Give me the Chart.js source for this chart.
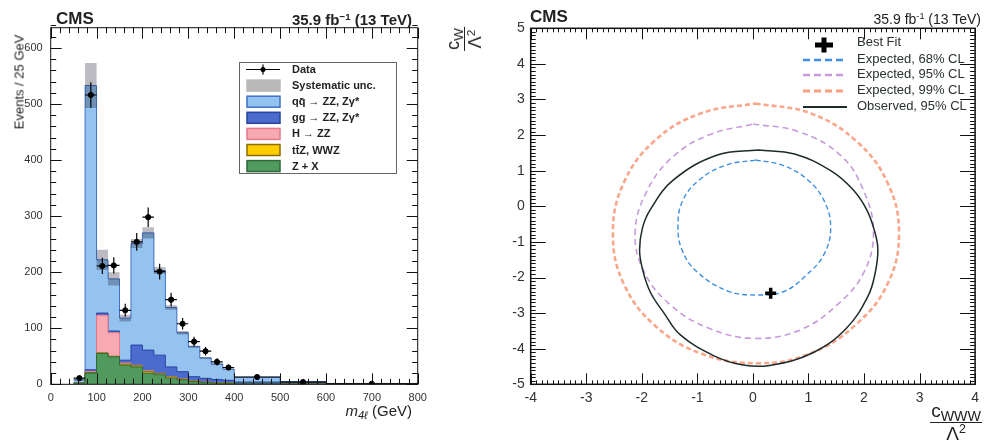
<!DOCTYPE html>
<html>
<head>
<meta charset="utf-8">
<script src="https://cdn.jsdelivr.net/npm/chart.js@4.4.0/dist/chart.umd.min.js"></script>
<style>
  body { margin: 0; background: #fff; width: 984px; height: 444px; overflow: hidden; position: relative;
         font-family: "Liberation Sans", Arial, Helvetica, sans-serif; color: #222; }
  canvas { position: absolute; top: 0; }
  #left { left: 0; }
  #right { left: 440px; }
  .t { position: absolute; line-height: 1; white-space: nowrap; }
  .t sup { font-size: 0.65em; vertical-align: 0.55em; line-height: 0; }
  .t sub { font-size: 0.75em; vertical-align: -0.3em; line-height: 0; }
  .frac { display: inline-flex; flex-direction: column; align-items: center; line-height: 1; }
  .frac .num { border-bottom: 1.5px solid #222; padding: 0 1px 2px 1px; }
  .frac .den { padding-top: 1px; }
</style>
</head>
<body>
<canvas id="left" width="440" height="444"></canvas>
<canvas id="right" width="544" height="444"></canvas>

<div class="t" style="left:56px;top:10px;font-size:17px;font-weight:bold">CMS</div>
<div class="t" style="right:572px;top:11.5px;font-size:15px;font-weight:bold">35.9 fb<sup>&minus;1</sup> (13 TeV)</div>
<div class="t" style="left:19px;top:82px;font-size:13px;transform:translate(-50%,-50%) rotate(-90deg)">Events / 25 GeV</div>
<div class="t" style="right:572px;top:403px;font-size:15px"><i>m</i><sub><i>4&#8467;</i></sub> (GeV)</div>

<div class="t" style="left:530px;top:7.5px;font-size:17px;font-weight:bold">CMS</div>
<div class="t" style="right:3px;top:11.5px;font-size:14px">35.9 fb<sup>-1</sup> (13 TeV)</div>
<div class="t" style="left:464px;top:39px;font-size:18px;transform:translate(-50%,-50%) rotate(-90deg)">
  <span class="frac"><span class="num">c<sub>W</sub></span><span class="den">&Lambda;<sup>2</sup></span></span>
</div>
<div class="t" style="right:2px;top:401px;font-size:19px">
  <span class="frac"><span class="num">c<sub>WWW</sub></span><span class="den">&Lambda;<sup>2</sup></span></span>
</div>

<script>
// ---- left panel: m4l distribution, events / 25 GeV ----
const binLow  = [50, 75, 100, 125, 150, 175, 200, 225, 250, 275, 300, 325, 350, 375, 400, 500, 600];
const binHigh = [75, 100, 125, 150, 175, 200, 225, 250, 275, 300, 325, 350, 375, 400, 500, 600, 800];
const zPlusX  = [2, 20, 55, 49, 34, 31, 20, 17, 11, 8, 5, 3, 2, 2, 1, 0.5, 0.2];
const ttzWwz  = [0, 1, 1, 1, 2, 2, 3, 2, 2, 1.5, 1, 1, 0.5, 0.5, 0.3, 0.1, 0];
const higgs   = [0, 2, 67, 42, 2, 1, 1, 0.5, 0.5, 0.3, 0.2, 0.2, 0.1, 0.1, 0.1, 0, 0];
const ggZZ    = [0.5, 3, 4, 3, 5, 36, 37, 32.5, 17.5, 12.7, 7.4, 6.5, 6, 4.5, 2.6, 1.4, 0.6];
const qqZZ    = [5.5, 507, 95, 93, 75, 181, 209, 151, 106, 69.5, 53.4, 36.3, 27.4, 19.9, 8.5, 3, 0.7];
const sysUnc  = [1, 40, 18, 12, 6, 8, 10, 6, 4, 3, 2, 1.5, 1.2, 1, 0.5, 0.2, 0.1];
const dataVal = [11, 516, 211, 212, 132, 254, 298, 201, 151, 108, 76, 59, 40, 30, 13, 4, 1];
const dataErr = [3.3, 22.7, 14.5, 14.6, 11.5, 15.9, 17.3, 14.2, 12.3, 10.4, 8.7, 7.7, 6.3, 5.5, 1.8, 1, 0.35];
const leftXTicks = [0, 100, 200, 300, 400, 500, 600, 700, 800];
const leftYTicks = [0, 100, 200, 300, 400, 500, 600];

// ---- right panel: 2D limits on cWWW/L^2 vs cW/L^2 ----
const exp68X = [0.05, 0.54, 0.99, 1.29, 1.40, 1.28, 0.97, 0.55, 0.05, -0.45, -1.00, -1.27, -1.35, -1.26, -0.95, -0.48];
const exp68Y = [1.30, 1.15, 0.74, 0.13, -0.62, -1.35, -1.92, -2.40, -2.49, -2.38, -1.85, -1.25, -0.55, 0.17, 0.76, 1.16];
const exp95X = [0.00, 0.82, 1.58, 1.99, 2.17, 2.00, 1.53, 0.84, 0.02, -0.80, -1.50, -1.97, -2.12, -1.90, -1.45, -0.80];
const exp95Y = [2.31, 2.10, 1.43, 0.45, -0.72, -1.85, -2.75, -3.48, -3.71, -3.42, -2.75, -1.80, -0.70, 0.45, 1.38, 2.00];
const exp99X = [0.05, 1.04, 1.87, 2.43, 2.63, 2.43, 1.87, 1.04, 0.10, -0.94, -1.77, -2.33, -2.52, -2.33, -1.77, -0.94];
const exp99Y = [2.89, 2.61, 1.82, 0.64, -0.76, -2.16, -3.30, -4.13, -4.41, -4.13, -3.34, -2.16, -0.76, 0.64, 1.84, 2.61];
const obs95X = [0.10, 0.75, 1.40, 1.80, 2.05, 2.20, 2.25, 2.20, 2.07, 1.68, 1.07, 0.30, -0.20, -0.70, -1.30, -1.60, -1.85, -1.99, -2.04, -1.99, -1.85, -1.43, -0.64];
const obs95Y = [1.58, 1.47, 1.00, 0.47, -0.10, -0.75, -1.23, -1.88, -2.53, -3.43, -4.12, -4.47, -4.45, -4.20, -3.62, -3.00, -2.40, -1.75, -1.23, -0.62, -0.10, 0.74, 1.44];
const bestFit = [0.32, -2.44];
const rightXTicks = [-4, -3, -2, -1, 0, 1, 2, 3, 4];
const rightYTicks = [-5, -4, -3, -2, -1, 0, 1, 2, 3, 4, 5];

const FONT = '"Liberation Sans", Arial, Helvetica, sans-serif';
Chart.defaults.font.family = FONT;
Chart.defaults.color = '#222';
Chart.defaults.animation = false;
Chart.defaults.events = [];
Chart.defaults.plugins.legend.display = false;
Chart.defaults.plugins.tooltip.enabled = false;

const C = {
  qq: '#94c3ef', qqLine: '#3f6fc8',
  gg: '#4b6bce', ggLine: '#25449f',
  h: '#f7aab4', hLine: '#e9788a',
  ttz: '#ffcc00', ttzLine: '#8a6d00',
  zx: '#4f9a5c', zxLine: '#2d6a37',
  sys: 'rgba(30,30,50,0.30)'
};

// frame + inward ticks on all four sides (ROOT style)
const rootFrame = {
  id: 'rootFrame',
  afterDatasetsDraw(chart, args, o) {
    const { ctx, chartArea: a, scales: { x, y } } = chart;
    ctx.save();
    ctx.strokeStyle = '#111';
    ctx.lineWidth = 1;
    ctx.beginPath();
    const nx = Math.round((x.max - x.min) / o.xMinor);
    for (let i = 0; i <= nx; i++) {
      const v = x.min + i * o.xMinor;
      const px = Math.round(x.getPixelForValue(v)) + 0.5;
      const len = o.xMajor.some(m => Math.abs(m - v) < 1e-6) ? o.xMajorLen : o.xMinorLen;
      ctx.moveTo(px, a.bottom); ctx.lineTo(px, a.bottom - len);
      ctx.moveTo(px, a.top); ctx.lineTo(px, a.top + len);
    }
    const ny = Math.round((y.max - y.min) / o.yMinor);
    for (let i = 0; i <= ny; i++) {
      const v = y.min + i * o.yMinor;
      const py = Math.round(y.getPixelForValue(v)) + 0.5;
      const len = o.yMajor.some(m => Math.abs(m - v) < 1e-6) ? o.yMajorLen : o.yMinorLen;
      ctx.moveTo(a.left, py); ctx.lineTo(a.left + len, py);
      ctx.moveTo(a.right, py); ctx.lineTo(a.right - len, py);
    }
    ctx.stroke();
    ctx.lineWidth = o.frameWidth;
    ctx.strokeRect(a.left, a.top, a.right - a.left, a.bottom - a.top);
    ctx.restore();
  }
};

// legend box of the histogram
const histLegend = {
  id: 'histLegend',
  afterDraw(chart) {
    const ctx = chart.ctx;
    const items = [
      { label: 'Data', kind: 'data' },
      { label: 'Systematic unc.', fill: '#b9b9b9', line: '#b9b9b9' },
      { label: 'q\u0071\u0304 \u2192 ZZ, Z\u03b3*', fill: C.qq, line: C.qqLine },
      { label: 'gg \u2192 ZZ, Z\u03b3*', fill: C.gg, line: C.ggLine },
      { label: 'H \u2192 ZZ', fill: C.h, line: C.hLine },
      { label: 't\u0074\u0304Z, WWZ', fill: C.ttz, line: C.ttzLine },
      { label: 'Z + X', fill: C.zx, line: C.zxLine }
    ];
    ctx.save();
    ctx.fillStyle = '#fff';
    ctx.fillRect(239, 62, 158, 112);
    ctx.strokeStyle = '#666';
    ctx.lineWidth = 1;
    ctx.strokeRect(239.5, 62.5, 157, 111);
    ctx.font = 'bold 11px ' + FONT;
    ctx.textBaseline = 'middle';
    items.forEach((it, i) => {
      const yc = 69.5 + i * 16.1;
      if (it.kind === 'data') {
        ctx.strokeStyle = '#000';
        ctx.lineWidth = 1.2;
        ctx.beginPath();
        ctx.moveTo(246, yc); ctx.lineTo(280, yc);
        ctx.moveTo(263, yc - 5); ctx.lineTo(263, yc + 5);
        ctx.stroke();
        ctx.fillStyle = '#000';
        ctx.beginPath(); ctx.arc(263, yc, 2.5, 0, Math.PI * 2); ctx.fill();
      } else {
        ctx.fillStyle = it.fill;
        ctx.fillRect(247, yc - 5.5, 33, 11);
        ctx.strokeStyle = it.line;
        ctx.lineWidth = 1.5;
        ctx.strokeRect(247, yc - 5.5, 33, 11);
      }
      ctx.fillStyle = '#222';
      ctx.fillText(it.label, 292, yc + 0.5);
    });
    ctx.restore();
  }
};

// legend of the contour plot
const contourLegend = {
  id: 'contourLegend',
  afterDraw(chart) {
    const ctx = chart.ctx;
    ctx.save();
    ctx.strokeStyle = '#000';
    ctx.lineWidth = 5;
    ctx.beginPath();
    ctx.moveTo(375, 45); ctx.lineTo(393, 45);
    ctx.moveTo(384, 37.5); ctx.lineTo(384, 52.5);
    ctx.stroke();
    const lines = [
      { label: 'Expected, 68% CL', color: '#3d8fe0', dash: [7, 4], width: 2.5, y: 60 },
      { label: 'Expected, 95% CL', color: '#c79adb', dash: [7, 4], width: 2.5, y: 75 },
      { label: 'Expected, 99% CL', color: '#f99e80', dash: [7, 4], width: 2.8, y: 91 },
      { label: 'Observed, 95% CL', color: '#1d2a2a', dash: [], width: 2.2, y: 107 }
    ];
    ctx.font = '13px ' + FONT;
    ctx.textBaseline = 'middle';
    ctx.fillStyle = '#2a3030';
    ctx.fillText('Best Fit', 417, 42);
    lines.forEach(l => {
      ctx.strokeStyle = l.color;
      ctx.lineWidth = l.width;
      ctx.setLineDash(l.dash);
      ctx.beginPath(); ctx.moveTo(363, l.y); ctx.lineTo(407, l.y); ctx.stroke();
      ctx.setLineDash([]);
      ctx.fillText(l.label, 417, l.y - 1);
    });
    ctx.restore();
  }
};

// histogram as stepped lines, one point per lower bin edge plus the last upper edge
const edges = binLow.concat([binHigh[binHigh.length - 1]]);
const steps = vals => edges.map((x, i) => ({ x: x, y: vals[Math.min(i, vals.length - 1)] }));
const total = binLow.map((_, i) => zPlusX[i] + ttzWwz[i] + higgs[i] + ggZZ[i] + qqZZ[i]);
const layer = (vals, fill, line, f) => ({
  data: steps(vals), stepped: true, fill: f, backgroundColor: fill, borderColor: line,
  borderWidth: 1, pointRadius: 0, stack: 'mc', order: 3
});
const errV = [], errH = [];
binLow.forEach((lo, i) => {
  const c = (lo + binHigh[i]) / 2;
  errV.push({ x: c, y: dataVal[i] - dataErr[i] }, { x: c, y: dataVal[i] + dataErr[i] }, { x: c, y: null });
  errH.push({ x: lo, y: dataVal[i] }, { x: binHigh[i], y: dataVal[i] }, { x: binHigh[i], y: null });
});

new Chart(document.getElementById('left'), {
  type: 'line',
  data: {
    datasets: [
      layer(zPlusX, C.zx, C.zxLine, 'origin'),
      layer(ttzWwz, C.ttz, C.ttzLine, '-1'),
      layer(higgs, C.h, C.hLine, '-1'),
      layer(ggZZ, C.gg, C.ggLine, '-1'),
      layer(qqZZ, C.qq, C.qqLine, '-1'),
      { data: steps(total.map((t, i) => t - sysUnc[i])), stepped: true, borderWidth: 0, borderColor: 'transparent',
        pointRadius: 0, fill: false, stack: 'lo', order: 2 },
      { data: steps(total.map((t, i) => t + sysUnc[i])), stepped: true, borderWidth: 0, borderColor: 'transparent',
        pointRadius: 0, fill: '-1', backgroundColor: C.sys, stack: 'hi', order: 2 },
      { data: errV, borderColor: '#000', borderWidth: 1.2, pointRadius: 0, fill: false, stack: 'ev', order: 1 },
      { data: errH, borderColor: '#000', borderWidth: 1.2, pointRadius: 0, fill: false, stack: 'eh', order: 1 },
      { data: binLow.map((lo, i) => ({ x: (lo + binHigh[i]) / 2, y: dataVal[i] })), showLine: false,
        pointRadius: 2.6, pointBackgroundColor: '#000', pointBorderColor: '#000', stack: 'd', order: 0 }
    ]
  },
  options: {
    responsive: false,
    layout: { autoPadding: false, padding: { left: 0, right: 22.3, top: 27.7, bottom: 29.7 } },
    scales: {
      x: {
        type: 'linear', min: 0, max: 800,
        afterBuildTicks: s => { s.ticks = leftXTicks.map(v => ({ value: v })); },
        afterFit: s => { s.height = 30; },
        grid: { display: false, drawTicks: false }, border: { display: false },
        ticks: { font: { size: 11 }, color: '#333', padding: 7, maxRotation: 0, autoSkip: false }
      },
      y: {
        stacked: true, min: 0, max: 636,
        afterBuildTicks: s => { s.ticks = leftYTicks.map(v => ({ value: v })); },
        afterFit: s => { s.width = 50.7; },
        grid: { display: false, drawTicks: false }, border: { display: false },
        ticks: { font: { size: 11 }, color: '#333', padding: 8 }
      }
    },
    plugins: {
      rootFrame: { xMajor: leftXTicks, xMinor: 20, xMajorLen: 11, xMinorLen: 5.5,
                   yMajor: leftYTicks, yMinor: 20, yMajorLen: 11, yMinorLen: 5.5, frameWidth: 1 }
    }
  },
  plugins: [rootFrame, histLegend]
});

const contour = (xs, ys, color, width, dash, order) => ({
  data: xs.concat([xs[0]]).map((x, i) => ({ x: x, y: ys.concat([ys[0]])[i] })),
  showLine: true, borderColor: color, borderWidth: width, borderDash: dash,
  tension: 0.4, pointRadius: 0, fill: false, order: order
});

new Chart(document.getElementById('right'), {
  type: 'scatter',
  data: {
    datasets: [
      { data: [{ x: bestFit[0], y: bestFit[1] }], pointStyle: 'cross', pointRadius: 5.5,
        pointBorderWidth: 3.5, pointBorderColor: '#000', order: 0 },
      contour(obs95X, obs95Y, '#1d2a2a', 1.5, [], 1),
      contour(exp68X, exp68Y, '#3d8fe0', 1.4, [5, 3], 2),
      contour(exp95X, exp95Y, '#c79adb', 1.6, [6, 4], 3),
      contour(exp99X, exp99Y, 'rgba(248,150,118,0.85)', 2.6, [5, 3], 4)
    ]
  },
  options: {
    responsive: false,
    layout: { autoPadding: false, padding: { left: 60, right: 2.3, top: 28.3, bottom: 29.7 } },
    scales: {
      x: {
        type: 'linear', min: -4, max: 4,
        afterBuildTicks: s => { s.ticks = rightXTicks.map(v => ({ value: v })); },
        afterFit: s => { s.height = 30; },
        grid: { display: false, drawTicks: false }, border: { display: false },
        ticks: { font: { size: 14 }, color: '#333', padding: 5, maxRotation: 0, autoSkip: false }
      },
      y: {
        min: -5, max: 5,
        afterBuildTicks: s => { s.ticks = rightYTicks.map(v => ({ value: v })); },
        afterFit: s => { s.width = 30.7; },
        grid: { display: false, drawTicks: false }, border: { display: false },
        ticks: { font: { size: 14 }, color: '#333', padding: 6 }
      }
    },
    plugins: {
      rootFrame: { xMajor: rightXTicks, xMinor: 0.1, xMajorLen: 11, xMinorLen: 4,
                   yMajor: rightYTicks, yMinor: 0.1, yMajorLen: 15, yMinorLen: 5, frameWidth: 1.5 }
    }
  },
  plugins: [rootFrame, contourLegend]
});
</script>
</body>
</html>
